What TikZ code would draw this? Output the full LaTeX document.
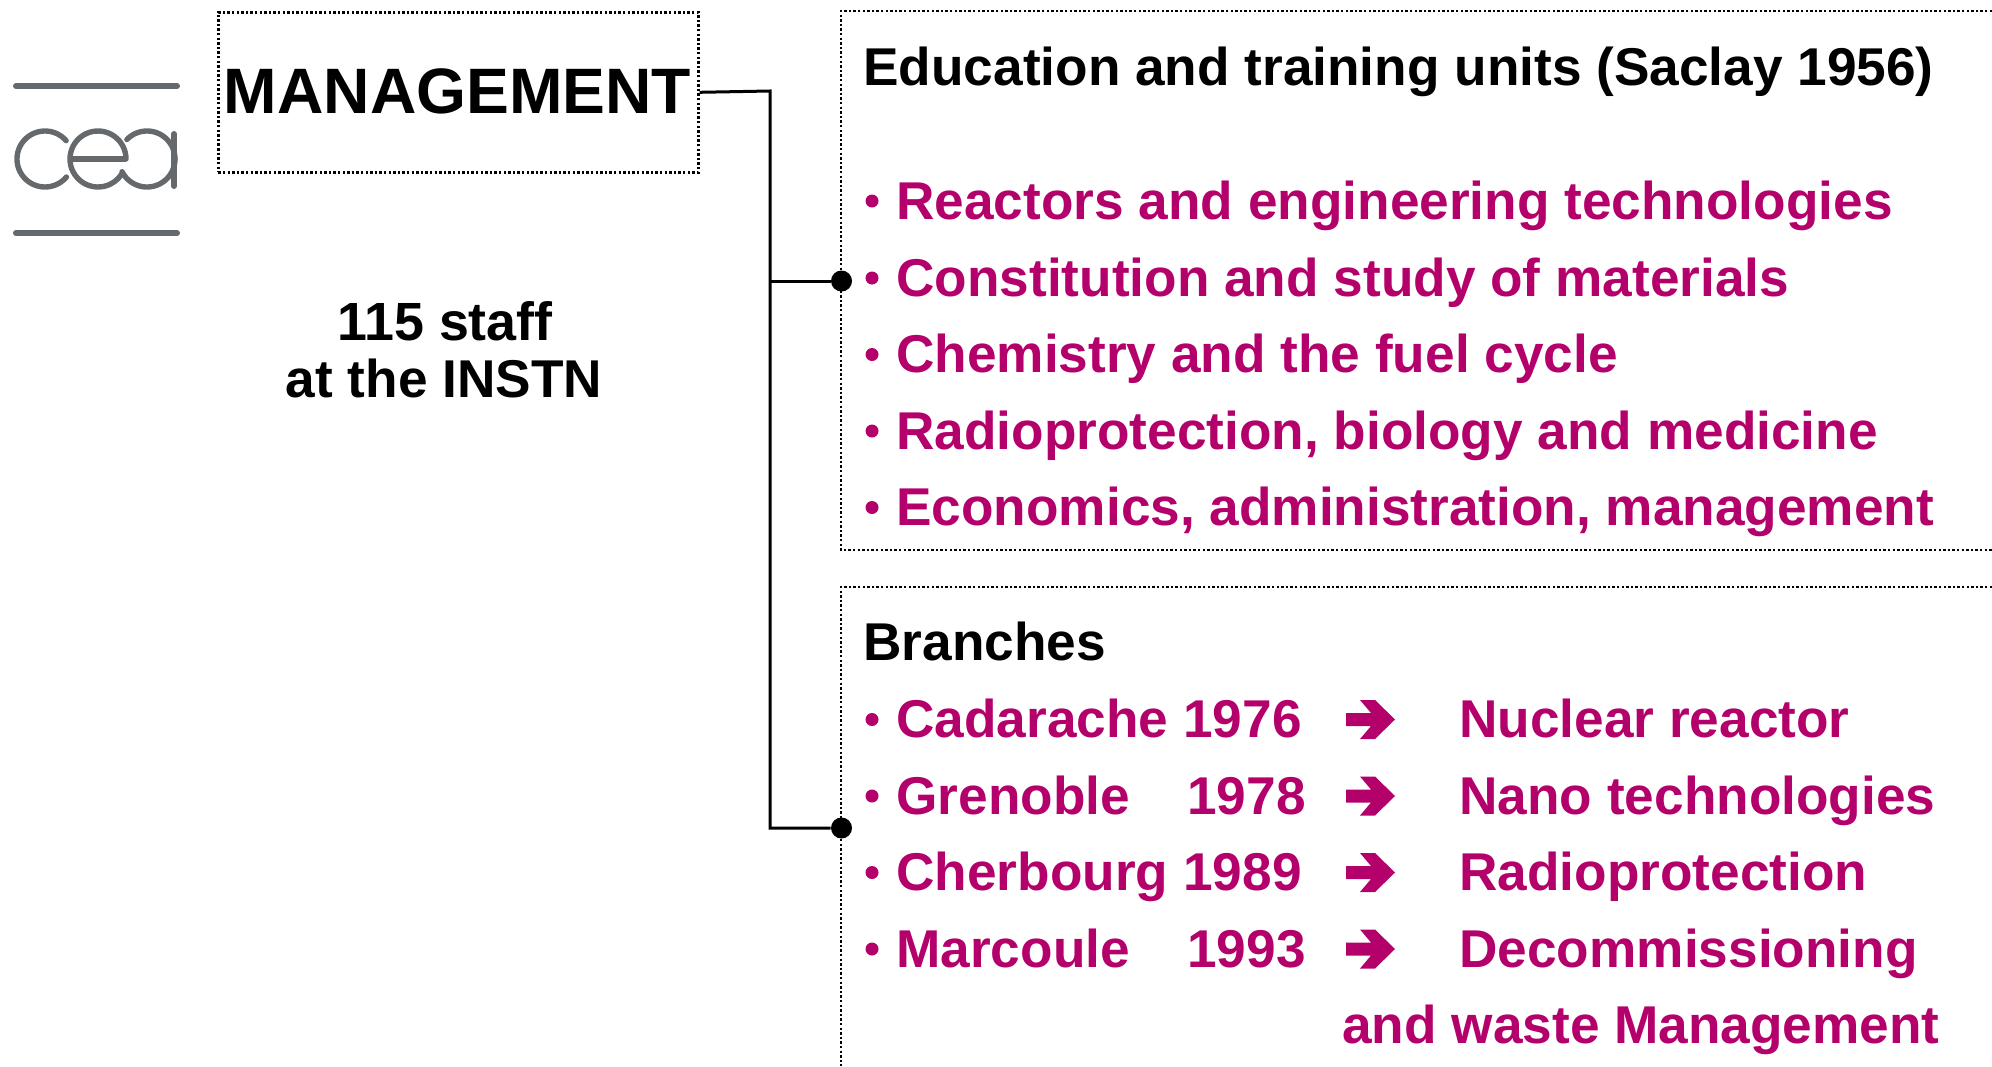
\documentclass[tikz,border=0pt]{standalone}
\usepackage{fontspec}
\setmainfont{Liberation Sans}
\definecolor{mag}{HTML}{B3006B}
\definecolor{logo}{HTML}{66696C}
\newcommand{\fsz}[1]{\fontsize{#1}{#1}\selectfont\bfseries}
\newcommand{\ring}[4]{\draw[logo,line width=2.7pt,line cap=round] plot[domain=#3:#4,samples=50,smooth] ({#1+28*cos(\x)},{#2-28*sin(\x)});}
\begin{document}
\begin{tikzpicture}[x=0.5pt,y=-0.5pt,
  dotline/.style={line width=1.3pt,black,dash pattern=on 1.2pt off 1.1pt},
  conn/.style={line width=1.5pt,black},
  jdot/.style={circle,fill=black,inner sep=0pt,minimum size=10.5pt},
  head/.style={anchor=base west,inner sep=0pt,font=\fsz{26.6},text=black},
  item/.style={anchor=base west,inner sep=0pt,font=\fsz{26.6},text=mag},
  bul/.style={circle,fill=mag,inner sep=0pt,minimum size=6.5pt},
  logoline/.style={line width=3pt,logo,line cap=round}]
\useasboundingbox (0,0) rectangle (1992,1066);
% logo
\draw[logoline] (16,86) -- (177,86);
\draw[logoline] (16,233) -- (177,233);
\ring{45}{159}{41}{320}
\ring{98}{159}{0}{328}
\draw[logo,line width=2.7pt] (72,159) -- (126,159);
\ring{147}{159}{136}{0}
\ring{147}{159}{207}{360}
\draw[logoline] (174,134) -- (174,186);
% boxes
\node[draw,dotline,minimum width=240pt,minimum height=80pt,inner sep=0pt,anchor=north west] (mgmt) at (217,11) {};
\node[anchor=base,inner sep=0pt,font=\fsz{32.1}] (mtext) at (457.5,113) {MANAGEMENT};
\node[anchor=base,inner sep=0pt,font=\fsz{26.9}] (staff) at (445,340) {115 staff};
\node[anchor=base,inner sep=0pt,font=\fsz{26.6}] (instn) at (444,397) {at the INSTN};
\coordinate (tl1) at (841,11);
\coordinate (bl1) at (841,550);
\coordinate (tr1) at (1992,11);
\coordinate (br1) at (1992,550);
\coordinate (tl2) at (841,587);
\coordinate (tr2) at (1992,587);
\coordinate (bl2) at (841,1066);
\draw[dotline] (tr1) -- (tl1) -- (bl1) -- (br1);
\draw[dotline] (tr2) -- (tl2) -- (bl2);
\node[jdot] (d1) at (841.5,281) {};
\node[jdot] (d2) at (841.5,828) {};
\coordinate (trunktop) at (770,91);
\draw[conn] (mgmt.east) -- (trunktop) -- (770,828) -- (d2);
\draw[conn] (770,281) -- (d1);
% first list
\node[head] (h1) at (863,85) {Education and training units (Saclay 1956)};
\foreach \y/\t in {219/Reactors and engineering technologies,296/Constitution and study of materials,372.5/Chemistry and the fuel cycle,449/{Radioprotection, biology and medicine},525.5/{Economics, administration, management}}{
  \node[bul] at (872,\y-18) {};
  \node[item] at (896,\y) {\t};
}
% second list
\node[head] at (863,660.5) {Branches};
\foreach \y/\a/\b/\c/\e in {737.5/Cadarache/1976/Nuclear reactor/1302,814/Grenoble/1978/Nano technologies/1306,890.5/Cherbourg/1989/Radioprotection/1302,967/Marcoule/1993/Decommissioning/1306}{
  \node[bul] at (872,\y-18) {};
  \node[item] at (896,\y) {\a};
  \node[item,anchor=base east] at (\e,\y) {\b};
  \node[item] at (1459,\y) {\c};
  \fill[mag,shift={(1346,\y-18)}] (0,-6.5) -- (25,-6.5) -- (14,-19.5) -- (29,-19.5) -- (49,0) -- (29,19.5) -- (14,19.5) -- (25,6.5) -- (0,6.5) -- cycle;
}
\node[item] at (1342,1043.5) {and waste Management};
\end{tikzpicture}
\end{document}
